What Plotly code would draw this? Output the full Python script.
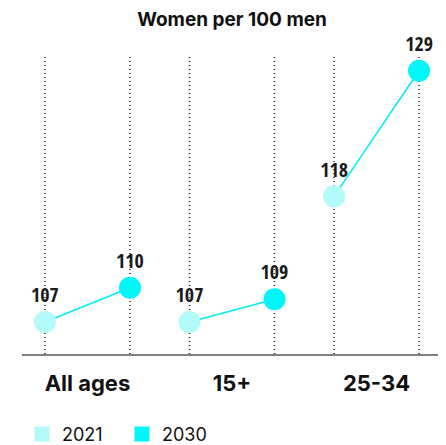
import plotly.graph_objects as go

# ---- data ----
groups = ["All ages", "15+", "25-34"]
years = ["2021", "2030"]
values_2021 = [107, 107, 118]
values_2030 = [110, 109, 129]

# ---- styling ----
col_2021 = "#b3fafa"
col_2030 = "#00f7f7"
col_line = "#00ecf2"
offset = 0.294
label_font = dict(family="Open Sans Condensed, Open Sans, sans-serif", size=20, color="#1a1a1a")

centers = list(range(len(groups)))
x_2021 = [c - offset for c in centers]
x_2030 = [c + offset for c in centers]

fig = go.Figure()

for i in range(len(groups)):
    fig.add_trace(go.Scatter(
        x=[x_2021[i], x_2030[i]], y=[values_2021[i], values_2030[i]],
        mode="lines", line=dict(color=col_line, width=1.5),
        showlegend=False, hoverinfo="skip"))

fig.add_trace(go.Scatter(
    x=x_2021, y=values_2021, mode="markers+text",
    text=[str(v) for v in values_2021], textposition="top center",
    textfont=label_font,
    marker=dict(size=22, color=col_2021), showlegend=False, cliponaxis=False, name="2021"))
fig.add_trace(go.Scatter(
    x=x_2030, y=values_2030, mode="markers+text",
    text=[str(v) for v in values_2030], textposition="top center",
    textfont=label_font,
    marker=dict(size=22, color=col_2030), showlegend=False, cliponaxis=False, name="2030"))

for name, col in zip(years, [col_2021, col_2030]):
    fig.add_trace(go.Scatter(
        x=[None], y=[None], mode="markers", name=name,
        marker=dict(symbol="square", size=15, color=col)))

shapes = []
for xv in x_2021 + x_2030:
    shapes.append(dict(type="line", xref="x", yref="paper", x0=xv, x1=xv, y0=0, y1=1,
                       line=dict(color="#222222", width=1.5, dash="1px,3px"), layer="below"))

W, H = 438, 437
fig.update_layout(
    width=W, height=H,
    margin=dict(l=14, r=4, t=49, b=91, autoexpand=False),
    paper_bgcolor="white", plot_bgcolor="white",
    title=dict(text="<b>Women per 100 men</b>", xref="container", x=224 / W, xanchor="center",
               yref="container", y=1 - 11 / H, yanchor="middle",
               font=dict(family="Inter, Noto Sans, sans-serif", size=19, color="#111111")),
    shapes=shapes,
    showlegend=True,
    legend=dict(orientation="h", x=0.0, xanchor="left", y=-0.27, yanchor="middle",
                font=dict(family="Inter, Noto Sans, sans-serif", size=18, color="#111111"),
                itemclick=False, entrywidth=55),
    xaxis=dict(range=[-0.453, 2.453], tickvals=centers, ticktext=groups, automargin=False,
               showgrid=False, zeroline=False, showline=True, linecolor="#808080", linewidth=2,
               ticks="", ticklabelstandoff=9,
               tickfont=dict(family="Inter, Noto Sans, sans-serif", size=22, color="#111111", weight="bold")),
    yaxis=dict(range=[104.2, 130.2], showgrid=False, zeroline=False, showticklabels=False,
               showline=False, automargin=False),
)

fig.write_html("out.html")
